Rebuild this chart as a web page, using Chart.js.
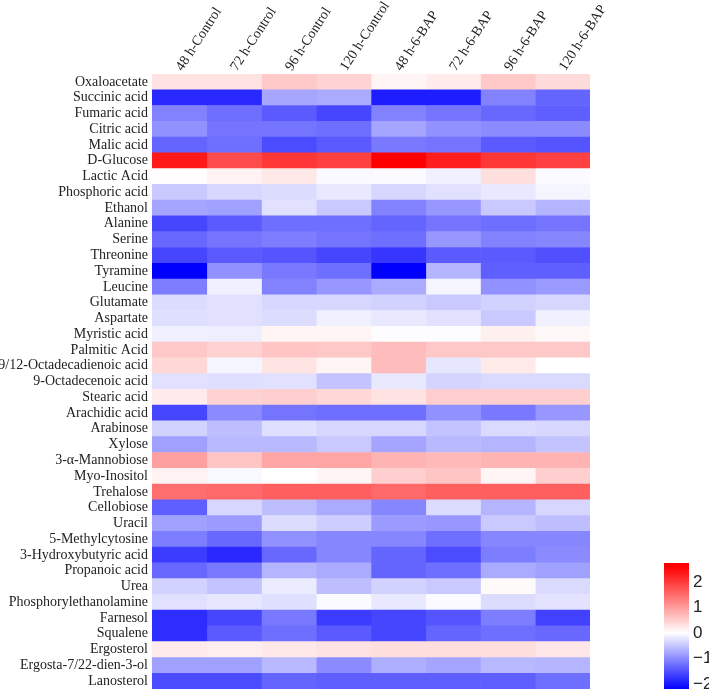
<!DOCTYPE html>
<html lang="en">

<head>
  <meta charset="UTF-8">
  <title>Heatmap</title>
  <script src="https://cdn.jsdelivr.net/npm/chart.js@4.4.1/dist/chart.umd.min.js"></script>
  <style>
  body {
    margin: 0;
    background: #fff;
  }

  #heat {
    position: absolute;
    left: 0;
    top: 0;
  }

  #scaleBar {
    position: absolute;
    left: 664px;
    top: 553px;
  }
  </style>
</head>

<body>
  <canvas id="heat" width="709" height="689"></canvas>
  <canvas id="scaleBar" width="45" height="136"></canvas>

  <script>
    var rows = ["Oxaloacetate", "Succinic acid", "Fumaric acid", "Citric acid", "Malic acid", "D-Glucose",
      "Lactic Acid", "Phosphoric acid", "Ethanol", "Alanine", "Serine", "Threonine", "Tyramine", "Leucine",
      "Glutamate", "Aspartate", "Myristic acid", "Palmitic Acid", "9/12-Octadecadienoic acid",
      "9-Octadecenoic acid", "Stearic acid", "Arachidic acid", "Arabinose", "Xylose", "3-\u03b1-Mannobiose",
      "Myo-Inositol", "Trehalose", "Cellobiose", "Uracil", "5-Methylcytosine", "3-Hydroxybutyric acid",
      "Propanoic acid", "Urea", "Phosphorylethanolamine", "Farnesol", "Squalene", "Ergosterol",
      "Ergosta-7/22-dien-3-ol", "Lanosterol"]

    var columns = ["48 h-Control", "72 h-Control", "96 h-Control", "120 h-Control",
      "48 h-6-BAP", "72 h-6-BAP", "96 h-6-BAP", "120 h-6-BAP"]

    // one array per column, same order as rows
    var control48 = [0.3, -1.85, -1.08, -0.95, -1.34, 2.35, 0.02, -0.47, -0.78, -1.6, -1.3, -1.6, -2.2, -1.12,
      -0.3, -0.28, -0.13, 0.56, 0.41, -0.26, 0.2, -1.6, -0.39, -0.82, 0.97, 0.13, 1.48, -1.38, -0.82, -1.12,
      -1.68, -1.3, -0.39, -0.26, -1.81, -1.81, 0.2, -0.82, -1.55]
    var control72 = [0.3, -1.85, -1.25, -1.2, -1.25, 1.84, 0.13, -0.35, -0.82, -1.42, -1.2, -1.42, -0.95, -0.13,
      -0.26, -0.26, -0.15, 0.46, -0.09, -0.28, 0.46, -1.0, -0.56, -0.6, 0.6, -0.06, 1.53, -0.35, -0.86, -1.3,
      -1.85, -1.16, -0.52, -0.22, -1.6, -1.42, 0.17, -0.82, -1.55]
    var control96 = [0.55, -0.77, -1.42, -1.2, -1.55, 2.04, 0.23, -0.3, -0.26, -1.25, -1.12, -1.47, -1.16, -1.08,
      -0.35, -0.3, 0.1, 0.6, 0.28, -0.26, 0.5, -1.2, -0.28, -0.6, 0.92, 0, 1.63, -0.56, -0.3, -0.95,
      -1.3, -0.65, -0.17, -0.28, -1.16, -1.25, 0.23, -0.6, -1.34]
    var control120 = [0.45, -0.73, -1.6, -1.25, -1.42, 1.94, -0.05, -0.2, -0.47, -1.25, -1.2, -1.6, -1.25, -0.9,
      -0.35, -0.13, 0.1, 0.56, 0.1, -0.52, 0.41, -1.25, -0.35, -0.47, 0.92, 0.1, 1.63, -0.73, -0.43, -1.04,
      -1.04, -0.73, -0.56, -0.04, -1.68, -1.42, 0.3, -1.0, -1.38]
    var bap48 = [0.1, -1.95, -1.08, -0.78, -1.16, 2.6, -0.04, -0.35, -1.08, -1.34, -1.25, -1.73, -2.2, -0.73,
      -0.39, -0.2, -0.02, 0.68, 0.68, -0.2, 0.3, -1.25, -0.35, -0.78, 0.76, 0.5, 1.53, -1.04, -0.86, -1.04,
      -1.34, -1.34, -0.39, -0.2, -1.6, -1.6, 0.34, -0.69, -1.38]
    var bap72 = [0.2, -1.95, -1.2, -0.95, -1.2, 2.3, -0.13, -0.26, -0.9, -1.2, -0.9, -1.42, -0.65, -0.09,
      -0.47, -0.26, -0.03, 0.56, -0.22, -0.37, 0.5, -0.95, -0.52, -0.6, 0.71, 0.6, 1.63, -0.3, -0.9, -1.25,
      -1.55, -1.25, -0.47, -0.04, -1.47, -1.34, 0.34, -0.78, -1.38]
    var bap96 = [0.55, -1.08, -1.3, -1.0, -1.42, 2.04, 0.34, -0.2, -0.47, -1.25, -1.08, -1.42, -1.38, -0.95,
      -0.39, -0.47, 0.15, 0.56, 0.22, -0.32, 0.5, -1.16, -0.32, -0.65, 0.76, 0.1, 1.63, -0.65, -0.47, -1.04,
      -1.12, -0.73, 0.05, -0.3, -1.12, -1.25, 0.34, -0.6, -1.38]
    var bap120 = [0.38, -1.34, -1.38, -1.0, -1.47, 1.94, -0.04, -0.09, -0.65, -1.2, -1.04, -1.51, -1.38, -0.86,
      -0.35, -0.13, 0.07, 0.56, 0, -0.32, 0.5, -0.9, -0.35, -0.52, 0.76, 0.5, 1.63, -0.35, -0.56, -1.04,
      -1.0, -0.82, -0.32, -0.24, -1.64, -1.3, 0.25, -0.65, -1.25]

    var columnValues = [control48, control72, control96, control120, bap48, bap72, bap96, bap120]

    var legendTicks = [-2, -1, 0, 1, 2]
    var blueEnd = -2.2
    var redEnd = 2.6

    function cellColor(v) {
      var t, c
      if (v < 0) {
        t = Math.min(1, v / blueEnd)
        c = Math.round(255 * (1 - t))
        return `rgb(${c},${c},255)`
      }
      t = Math.min(1, v / redEnd)
      c = Math.round(255 * (1 - t))
      return `rgb(255,${c},${c})`
    }

    const serif = "'Liberation Serif', 'Times New Roman', serif"

    const datasets = columnValues.map((vals, i) => ({
      label: columns[i],
      data: rows.map(() => 1),
      backgroundColor: vals.map(cellColor),
      borderWidth: 0,
      categoryPercentage: 1,
      barPercentage: 1
    }))

    new Chart(document.getElementById('heat').getContext('2d'), {
      type: 'bar',
      data: { labels: rows, datasets: datasets },
      options: {
        indexAxis: 'y',
        responsive: false,
        animation: false,
        events: [],
        layout: { padding: { left: 0, right: 119, top: 0, bottom: 0 } },
        plugins: { legend: { display: false }, tooltip: { enabled: false } },
        scales: {
          x: {
            type: 'linear',
            position: 'top',
            stacked: true,
            min: 0,
            max: columns.length,
            grid: { display: false, drawTicks: false },
            border: { display: false },
            afterBuildTicks: function (scale) {
              scale.ticks = columns.map((c, i) => ({ value: i + 0.5 }))
            },
            afterFit: function (scale) {
              scale.height = 74
              scale.paddingLeft = 0
              scale.paddingRight = 0
            },
            ticks: {
              autoSkip: false,
              minRotation: 57,
              maxRotation: 57,
              padding: 0,
              labelOffset: 14,
              color: '#222',
              font: { family: serif, size: 14 },
              callback: function (v, i) { return columns[i] }
            }
          },
          y: {
            stacked: true,
            grid: { display: false, drawTicks: false },
            border: { display: false },
            afterFit: function (scale) {
              scale.width = 152
              scale.paddingTop = 0
              scale.paddingBottom = 0
            },
            ticks: {
              autoSkip: false,
              padding: 4,
              color: '#222',
              font: { family: serif, size: 14 }
            }
          }
        }
      }
    })

    // colour key
    var keyMin = -2.2
    var keyMax = 2.75

    new Chart(document.getElementById('scaleBar').getContext('2d'), {
      type: 'bar',
      data: {
        labels: [''],
        datasets: [{
          data: [[keyMin, keyMax]],
          borderWidth: 0,
          categoryPercentage: 1,
          barPercentage: 1,
          backgroundColor: function (ctx) {
            const chart = ctx.chart
            if (!chart.chartArea) return '#fff'
            const ys = chart.scales.y
            const g = chart.ctx.createLinearGradient(0, ys.getPixelForValue(keyMin), 0, ys.getPixelForValue(keyMax))
            const span = keyMax - keyMin
            g.addColorStop(0, cellColor(blueEnd))
            g.addColorStop((0 - keyMin) / span, '#ffffff')
            g.addColorStop((redEnd - keyMin) / span, cellColor(redEnd))
            g.addColorStop(1, cellColor(redEnd))
            return g
          }
        }]
      },
      options: {
        responsive: false,
        animation: false,
        events: [],
        layout: { padding: { top: 10, bottom: 0, left: 0, right: 0 } },
        plugins: { legend: { display: false }, tooltip: { enabled: false } },
        scales: {
          x: { display: false },
          y: {
            position: 'right',
            min: keyMin,
            max: keyMax,
            grid: { display: false, drawTicks: false },
            border: { display: false },
            afterBuildTicks: function (scale) {
              scale.ticks = legendTicks.map(v => ({ value: v }))
            },
            afterFit: function (scale) {
              scale.width = 20
              scale.paddingTop = 0
              scale.paddingBottom = 0
            },
            ticks: {
              padding: 4,
              color: '#222',
              font: { family: "'Liberation Sans', Arial, sans-serif", size: 17 },
              callback: function (v) { return v < 0 ? '\u2212' + Math.abs(v) : String(v) }
            }
          }
        }
      }
    })
  </script>
</body>

</html>
